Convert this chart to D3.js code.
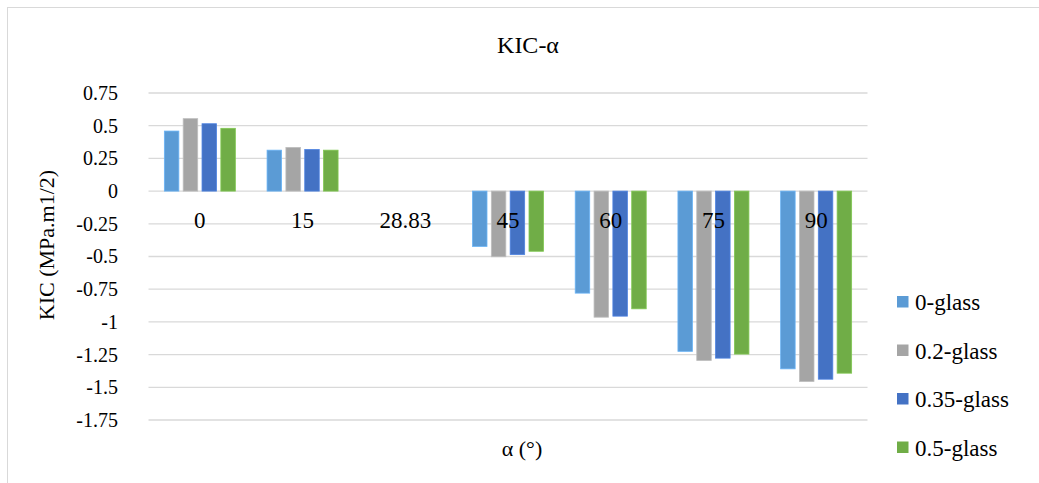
<!DOCTYPE html>
<html>
<head>
<meta charset="utf-8">
<script src="https://cdn.jsdelivr.net/npm/d3@7"></script>
<style>
  html, body { margin: 0; padding: 0; background: #ffffff; }
  svg { display: block; }
  svg text { font-family: "Liberation Serif", "Times New Roman", serif; fill: #000; }
</style>
</head>
<body>
<svg id="chart" width="1039" height="483"></svg>
<script>
// Crack angle categories (degrees)
const categories = ["0", "15", "28.83", "45", "60", "75", "90"];

// Glass content series
const seriesNames = ["0-glass", "0.2-glass", "0.35-glass", "0.5-glass"];
const seriesColors = ["#5B9BD5", "#A5A5A5", "#4472C4", "#70AD47"];

// KIC values (MPa.m1/2) per series, one value per angle
const glass0   = [0.459, 0.313, 0, -0.423, -0.780, -1.225, -1.359];
const glass02  = [0.554, 0.334, 0, -0.502, -0.964, -1.295, -1.456];
const glass035 = [0.515, 0.318, 0, -0.485, -0.956, -1.277, -1.438];
const glass05  = [0.480, 0.313, 0, -0.460, -0.900, -1.246, -1.392];

// Value axis ticks
const yTicks = [0.75, 0.5, 0.25, 0, -0.25, -0.5, -0.75, -1, -1.25, -1.5, -1.75];

const seriesValues = [glass0, glass02, glass035, glass05];
const rows = categories.map((c, i) => ({
  cat: c,
  vals: seriesNames.map((s, k) => ({ series: s, k: k, v: seriesValues[k][i] }))
}));

const serif = "'Liberation Serif', 'Times New Roman', serif";
const svg = d3.select("#chart");

// outer chart frame
svg.append("rect")
  .attr("x", 7.5).attr("y", 7.5)
  .attr("width", 1100).attr("height", 600)
  .attr("fill", "none").attr("stroke", "#d9d9d9").attr("stroke-width", 1);

const plot = { left: 148.5, right: 867.5, top: 93, bottom: 420 };

const y = d3.scaleLinear().domain([-1.75, 0.75]).range([plot.bottom, plot.top]);
const x0 = d3.scaleBand().domain(categories).range([plot.left, plot.right]).paddingInner(0).paddingOuter(0);
const groupWidth = 71;
const x1 = d3.scaleBand().domain(seriesNames).range([0, groupWidth]).paddingInner(0.23).paddingOuter(0);
const groupOffset = (x0.bandwidth() - groupWidth) / 2;

// horizontal gridlines
svg.append("g").selectAll("line")
  .data(yTicks)
  .join("line")
  .attr("x1", plot.left).attr("x2", plot.right)
  .attr("y1", d => y(d)).attr("y2", d => y(d))
  .attr("stroke", "#d9d9d9").attr("stroke-width", 1.3);

// value axis tick labels (plain hyphen for negatives)
const yAxis = d3.axisLeft(y).tickValues(yTicks).tickSize(0).tickPadding(0)
  .tickFormat(d => String(d));
svg.append("g")
  .attr("transform", "translate(118,0)")
  .call(yAxis)
  .attr("font-family", serif)
  .call(g => g.select(".domain").remove())
  .call(g => g.selectAll("text")
    .style("font-size", "20px")
    .style("font-family", serif)
    .attr("fill", "#000"));

// bars
const groups = svg.append("g").selectAll("g")
  .data(rows)
  .join("g")
  .attr("transform", d => `translate(${x0(d.cat) + groupOffset},0)`);

groups.selectAll("rect")
  .data(d => d.vals)
  .join("rect")
  .attr("x", d => x1(d.series))
  .attr("width", x1.bandwidth())
  .attr("y", d => Math.min(y(d.v), y(0)))
  .attr("height", d => Math.abs(y(d.v) - y(0)))
  .attr("fill", d => seriesColors[d.k])
  .attr("stroke", d => d3.color(seriesColors[d.k]).brighter(0.4))
  .attr("stroke-width", 0.8);

// category labels sit just below the zero line, over the bars
const xAxis = d3.axisBottom(x0).tickSize(0).tickPadding(0);
svg.append("g")
  .attr("transform", `translate(0,${y(0)})`)
  .call(xAxis)
  .attr("font-family", serif)
  .call(g => g.select(".domain").remove())
  .call(g => g.selectAll("text")
    .attr("dy", null)
    .attr("y", 37)
    .style("font-size", "23px")
    .style("font-family", serif)
    .attr("fill", "#000"));

// title
svg.append("text")
  .attr("x", 528).attr("y", 53)
  .attr("text-anchor", "middle")
  .style("font-size", "24px")
  .text("KIC-α");

// axis titles
svg.append("text")
  .attr("transform", "translate(54,245) rotate(-90)")
  .attr("text-anchor", "middle")
  .style("font-size", "22px")
  .text("KIC (MPa.m1/2)");

svg.append("text")
  .attr("x", 522).attr("y", 456)
  .attr("text-anchor", "middle")
  .style("font-size", "22px")
  .text("α (°)");

// legend
const legend = svg.append("g").selectAll("g")
  .data(seriesNames)
  .join("g")
  .attr("transform", (d, i) => `translate(897,${302 + i * 48.5})`);

legend.append("rect")
  .attr("x", 0).attr("y", -6)
  .attr("width", 11.5).attr("height", 11.5)
  .attr("fill", (d, i) => seriesColors[i]);

legend.append("text")
  .attr("x", 18).attr("y", 8)
  .style("font-size", "23px")
  .text(d => d);
</script>
</body>
</html>
